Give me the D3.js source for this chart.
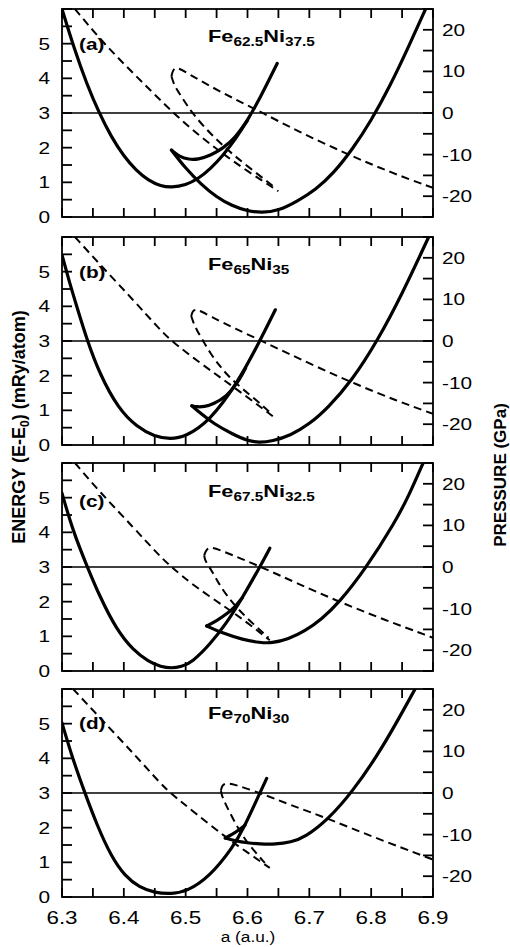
<!DOCTYPE html>
<html>
<head>
<meta charset="utf-8">
<script src="https://cdn.jsdelivr.net/npm/d3@7"></script>
<style>
  html, body { margin: 0; padding: 0; background: #fff; }
  svg { display: block; }
  text { font-family: "Liberation Sans", Arial, Helvetica, sans-serif; fill: #000; }
</style>
</head>
<body>
<svg id="chart" width="510" height="947"></svg>
<script>
// ---- axis tick values ----
const aTicks = [6.3, 6.4, 6.5, 6.6, 6.7, 6.8, 6.9];
const energyTicks = [0, 1, 2, 3, 4, 5];
const pressureTicks = [-20, -10, 0, 10, 20];

// ---- panel captions ----
const panelLetters = ["(a)", "(b)", "(c)", "(d)"];
const feContent = ["62.5", "65", "67.5", "70"];
const niContent = ["37.5", "35", "32.5", "30"];

// ---- Fe62.5Ni37.5 : [a (a.u.), E (mRy/atom)] and [a, P (GPa)] ----
const energyLowA = [[6.300,6.00],[6.320,4.84],[6.340,3.84],[6.360,3.00],[6.380,2.30],[6.400,1.75],[6.420,1.34],[6.440,1.05],[6.460,0.89],[6.477,0.85],[6.500,0.92],[6.520,1.10],[6.540,1.39],[6.560,1.77],[6.580,2.23],[6.600,2.79],[6.620,3.42],[6.648,4.43]];
const energyHighA = [[6.477,1.93],[6.500,1.40],[6.525,0.94],[6.550,0.57],[6.575,0.32],[6.600,0.17],[6.623,0.12],[6.650,0.18],[6.680,0.45],[6.710,0.78],[6.740,1.28],[6.770,1.96],[6.800,2.78],[6.830,3.76],[6.860,4.89],[6.888,6.00]];
const energyMixA = [[6.477,1.93],[6.490,1.74],[6.505,1.66],[6.520,1.66],[6.540,1.77],[6.560,1.98],[6.580,2.28],[6.600,2.79]];
const pressureLowA = [[6.321,25.0],[6.360,18.0],[6.400,11.8],[6.442,5.6],[6.480,0.0],[6.520,-5.2],[6.560,-9.8],[6.600,-14.0],[6.650,-18.8]];
const pressureHighA = [[6.477,8.8],[6.479,10.2],[6.485,11.2],[6.507,9.2],[6.540,6.4],[6.580,3.3],[6.625,0.0],[6.680,-4.3],[6.763,-10.0],[6.830,-14.2],[6.900,-18.0]];
const pressureMixA = [[6.477,8.8],[6.482,6.4],[6.493,4.0],[6.510,0.0],[6.540,-5.0],[6.570,-9.2],[6.600,-12.8],[6.645,-18.0]];

// ---- Fe65Ni35 ----
const energyLowB = [[6.300,5.48],[6.312,4.70],[6.323,4.05],[6.341,3.00],[6.361,2.05],[6.391,1.05],[6.421,0.52],[6.450,0.24],[6.475,0.17],[6.500,0.24],[6.539,0.70],[6.583,1.76],[6.620,3.00],[6.645,3.90]];
const energyHighB = [[6.510,1.13],[6.525,0.90],[6.545,0.62],[6.577,0.30],[6.600,0.12],[6.618,0.07],[6.640,0.11],[6.670,0.28],[6.700,0.60],[6.730,1.07],[6.769,1.86],[6.810,3.00],[6.850,4.35],[6.893,6.00]];
const energyMixB = [[6.510,1.13],[6.518,1.10],[6.530,1.10],[6.545,1.18],[6.566,1.40],[6.583,1.76],[6.597,2.22]];
const pressureLowB = [[6.321,25.0],[6.360,18.6],[6.415,9.9],[6.458,2.8],[6.477,0.0],[6.520,-4.9],[6.560,-9.2],[6.600,-13.5],[6.642,-18.2]];
const pressureHighB = [[6.509,6.0],[6.511,7.2],[6.517,7.8],[6.540,5.9],[6.580,3.0],[6.623,0.0],[6.700,-5.4],[6.769,-10.0],[6.840,-14.3],[6.900,-17.5]];
const pressureMixB = [[6.509,6.0],[6.512,4.6],[6.518,2.6],[6.526,0.6],[6.540,-3.0],[6.556,-6.2],[6.570,-8.6],[6.590,-11.3],[6.615,-14.3],[6.638,-17.4]];

// ---- Fe67.5Ni32.5 ----
const energyLowC = [[6.300,5.13],[6.318,4.02],[6.341,3.00],[6.361,2.15],[6.388,1.20],[6.415,0.60],[6.440,0.27],[6.460,0.12],[6.477,0.08],[6.493,0.12],[6.510,0.25],[6.539,0.76],[6.566,1.38],[6.588,2.00],[6.620,3.00],[6.636,3.54]];
const energyHighC = [[6.534,1.30],[6.558,1.10],[6.593,0.90],[6.620,0.82],[6.639,0.80],[6.666,0.92],[6.693,1.15],[6.720,1.50],[6.747,1.95],[6.790,2.92],[6.839,4.30],[6.862,5.10],[6.884,6.00]];
const energyMixC = [[6.534,1.30],[6.550,1.45],[6.566,1.64],[6.580,1.85],[6.592,2.12]];
const pressureLowC = [[6.321,25.0],[6.360,18.2],[6.415,9.6],[6.458,2.6],[6.477,0.0],[6.512,-4.4],[6.566,-9.8],[6.600,-13.4],[6.636,-17.6]];
const pressureHighC = [[6.530,2.8],[6.533,4.2],[6.541,4.9],[6.560,3.8],[6.590,2.0],[6.622,0.0],[6.680,-3.9],[6.747,-8.3],[6.820,-12.6],[6.900,-17.0]];
const pressureMixC = [[6.530,2.8],[6.531,1.8],[6.535,0.7],[6.541,-0.6],[6.552,-3.6],[6.566,-6.8],[6.585,-10.2],[6.610,-13.8],[6.634,-17.0]];

// ---- Fe70Ni30 ----
const energyLowD = [[6.300,5.02],[6.317,4.00],[6.337,3.00],[6.356,2.10],[6.380,1.15],[6.402,0.60],[6.425,0.28],[6.450,0.12],[6.477,0.09],[6.502,0.16],[6.539,0.59],[6.577,1.45],[6.594,1.99],[6.620,3.00],[6.631,3.42]];
const energyHighD = [[6.564,1.70],[6.580,1.62],[6.600,1.56],[6.620,1.53],[6.645,1.52],[6.670,1.58],[6.693,1.72],[6.731,2.25],[6.769,3.02],[6.817,4.25],[6.871,6.00]];
const energyMixD = [[6.564,1.70],[6.575,1.80],[6.585,1.92],[6.596,2.07]];
const pressureLowD = [[6.318,25.0],[6.360,18.3],[6.420,8.8],[6.458,2.5],[6.475,0.0],[6.512,-4.4],[6.566,-10.8],[6.600,-14.3],[6.636,-18.0]];
const pressureHighD = [[6.557,0.6],[6.559,1.9],[6.566,2.4],[6.580,2.0],[6.600,1.0],[6.620,0.0],[6.670,-2.9],[6.731,-6.2],[6.800,-10.4],[6.900,-16.0]];
const pressureMixD = [[6.557,0.6],[6.558,-0.4],[6.563,-2.2],[6.577,-6.4],[6.594,-10.8],[6.610,-13.8],[6.628,-16.8]];

// ---- assemble panels ----
const panels = [
  { energy: [energyLowA, energyHighA, energyMixA], pressure: [pressureLowA, pressureHighA, pressureMixA] },
  { energy: [energyLowB, energyHighB, energyMixB], pressure: [pressureLowB, pressureHighB, pressureMixB] },
  { energy: [energyLowC, energyHighC, energyMixC], pressure: [pressureLowC, pressureHighC, pressureMixC] },
  { energy: [energyLowD, energyHighD, energyMixD], pressure: [pressureLowD, pressureHighD, pressureMixD] }
];

// ---- layout ----
const plotLeft = 62, plotRight = 433;
const panelTops = [9, 237, 463, 689];
const panelH = 208;
const formulaOffsets = [32.5, 32.5, 34, 30];
const letterOffsets = [41, 41, 44, 40];

const svg = d3.select("#chart");
const x = d3.scaleLinear().domain([6.3, 6.9]).range([plotLeft, plotRight]);

// text with a horizontal stretch about its anchor point
function wideText(sel, px, py, sx, str) {
  return sel.append("text")
    .attr("transform", `translate(${px},${py}) scale(${sx},1)`)
    .text(str);
}

panels.forEach((p, i) => {
  const top = panelTops[i], bottom = top + panelH;
  const yE = d3.scaleLinear().domain([0, 6]).range([bottom, top]);
  const yP = d3.scaleLinear().domain([-25, 25]).range([bottom, top]);
  const g = svg.append("g");

  const clipId = "clip" + i;
  g.append("clipPath").attr("id", clipId)
    .append("rect").attr("x", plotLeft).attr("y", top)
    .attr("width", plotRight - plotLeft).attr("height", panelH);

  const plot = g.append("g").attr("clip-path", `url(#${clipId})`);

  // zero-pressure reference line
  plot.append("line")
    .attr("x1", plotLeft).attr("x2", plotRight)
    .attr("y1", yP(0)).attr("y2", yP(0))
    .attr("stroke", "#000").attr("stroke-width", 1.5);

  const lineE = d3.line().x(d => x(d[0])).y(d => yE(d[1])).curve(d3.curveBasis);
  const lineP = d3.line().x(d => x(d[0])).y(d => yP(d[1])).curve(d3.curveBasis);

  p.pressure.forEach(s => {
    plot.append("path").attr("d", lineP(s))
      .attr("fill", "none").attr("stroke", "#000")
      .attr("stroke-width", 2).attr("stroke-dasharray", "8,5");
  });
  p.energy.forEach(s => {
    plot.append("path").attr("d", lineE(s))
      .attr("fill", "none").attr("stroke", "#000")
      .attr("stroke-width", 3.2).attr("stroke-linecap", "round").attr("stroke-linejoin", "round");
  });

  // frame
  g.append("rect").attr("x", plotLeft).attr("y", top)
    .attr("width", plotRight - plotLeft).attr("height", panelH)
    .attr("fill", "none").attr("stroke", "#000").attr("stroke-width", 1.8);

  // inward ticks
  const ticks = g.append("g").attr("stroke", "#000").attr("stroke-width", 1.8);
  d3.range(0, 13).map(k => 6.3 + k * 0.05).forEach(v => {
    ticks.append("line").attr("x1", x(v)).attr("x2", x(v)).attr("y1", top).attr("y2", top + 9);
    ticks.append("line").attr("x1", x(v)).attr("x2", x(v)).attr("y1", bottom).attr("y2", bottom - 9);
  });
  d3.range(0, 13).map(k => k * 0.5).forEach(v => {
    ticks.append("line").attr("x1", plotLeft).attr("x2", plotLeft + 10).attr("y1", yE(v)).attr("y2", yE(v));
  });
  d3.range(0, 11).map(k => -25 + k * 5).forEach(v => {
    ticks.append("line").attr("x1", plotRight).attr("x2", plotRight - 10).attr("y1", yP(v)).attr("y2", yP(v));
  });

  // left tick labels (energy)
  energyTicks.forEach(v => {
    wideText(g, 50, yE(v) + 6, 1.3, v).attr("text-anchor", "end").attr("font-size", 16);
  });
  // right tick labels (pressure)
  pressureTicks.forEach(v => {
    wideText(g, 442, yP(v) + 6, 1.3, v).attr("text-anchor", "start").attr("font-size", 16);
  });

  // panel letter
  wideText(g, 79, top + letterOffsets[i], 1.3, panelLetters[i])
    .attr("font-size", 16).attr("font-weight", "bold");

  // alloy formula with subscripts
  const f = g.append("text")
    .attr("transform", `translate(208,${top + formulaOffsets[i]}) scale(1.28,1)`)
    .attr("font-weight", "bold").attr("font-size", 17);
  f.append("tspan").text("Fe");
  f.append("tspan").attr("font-size", 12).attr("dy", 4).text(feContent[i]);
  f.append("tspan").attr("dy", -4).text("Ni");
  f.append("tspan").attr("font-size", 12).attr("dy", 4).text(niContent[i]);

  // bottom tick labels only on the last panel
  if (i === panels.length - 1) {
    aTicks.forEach(v => {
      wideText(g, x(v), bottom + 27, 1.18, v.toFixed(1))
        .attr("text-anchor", "middle").attr("font-size", 19);
    });
  }
});

// axis titles
wideText(svg, 248, 942, 1.15, "a (a.u.)").attr("text-anchor", "middle").attr("font-size", 15);

const leftTitle = svg.append("text")
  .attr("transform", "translate(25,427) rotate(-90)")
  .attr("text-anchor", "middle").attr("font-weight", "bold").attr("font-size", 18);
leftTitle.append("tspan").text("ENERGY (E-E");
leftTitle.append("tspan").attr("font-size", 12).attr("dy", 4).text("0");
leftTitle.append("tspan").attr("dy", -4).text(") (mRy/atom)");

svg.append("text")
  .attr("transform", "translate(505.5,475) rotate(-90)")
  .attr("text-anchor", "middle").attr("font-weight", "bold").attr("font-size", 17)
  .text("PRESSURE (GPa)");
</script>
</body>
</html>
